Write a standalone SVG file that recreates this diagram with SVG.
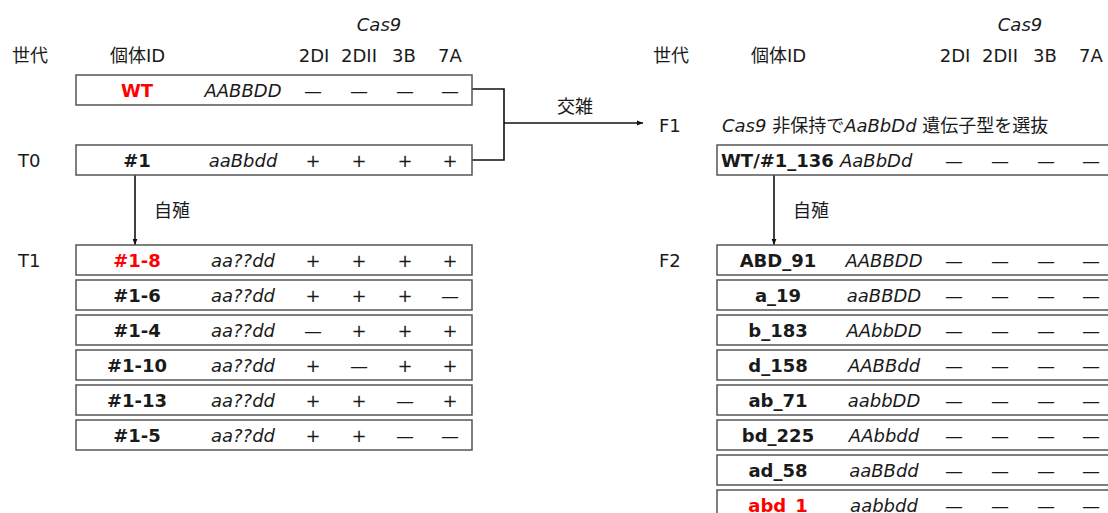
<svg xmlns="http://www.w3.org/2000/svg" width="1108" height="513" viewBox="0 0 1108 513">
<defs>
<marker id="ah" viewBox="0 0 10 10" refX="10" refY="5" markerWidth="6" markerHeight="6" orient="auto" markerUnits="userSpaceOnUse">
<path d="M0,1 L10,5 L0,9 z" fill="#111"/>
</marker>
<style>
text{font-family:"DejaVu Sans","Noto Sans CJK JP",sans-serif;font-size:18px;fill:#1a1a1a}
.box{fill:#fff;stroke:#555;stroke-width:1.5}
.id{font-weight:bold;text-anchor:middle}
.red{fill:#f00}
.gt{font-style:italic;text-anchor:middle}
.c{text-anchor:middle}
.it{font-style:italic}
.ln{fill:none;stroke:#111;stroke-width:1.6}
</style>
</defs>
<rect width="1108" height="513" fill="#fff"/>

<!-- headers left -->
<g id="header-left">
<text x="12" y="62">世代</text>
<text x="110" y="62">個体ID</text>
<text class="c it" x="379" y="31">Cas9</text>
<text class="c" x="314" y="62">2DI</text>
<text class="c" x="359" y="62">2DII</text>
<text class="c" x="404" y="62">3B</text>
<text class="c" x="450" y="62">7A</text>
<text x="18" y="167">T0</text>
<text x="18" y="267">T1</text>
</g>
<!-- headers right -->
<g id="header-right">
<text x="653" y="62">世代</text>
<text x="751" y="62">個体ID</text>
<text class="c it" x="1020" y="31">Cas9</text>
<text class="c" x="955" y="62">2DI</text>
<text class="c" x="1000" y="62">2DII</text>
<text class="c" x="1045" y="62">3B</text>
<text class="c" x="1091" y="62">7A</text>
<text x="659" y="132">F1</text>
<text x="659" y="267">F2</text>
<text x="722" y="132"><tspan class="it">Cas9</tspan> 非保持で<tspan class="it">AaBbDd</tspan> 遺伝子型を選抜</text>
</g>

<!-- connectors -->
<g id="connectors">
<path class="ln" d="M472,89 H504 V160 H472"/>
<path class="ln" d="M504,123 H643" marker-end="url(#ah)"/>
<path class="ln" d="M135,175 V245" marker-end="url(#ah)"/>
<path class="ln" d="M774,175 V245" marker-end="url(#ah)"/>
<text x="557" y="113">交雑</text>
<text x="154" y="217">自殖</text>
<text x="793" y="217">自殖</text>
</g>

<!-- left nodes -->
<g id="WT"><rect class="box" x="76" y="75" width="396" height="30"/>
<text class="id red" x="137" y="96.5">WT</text><text class="gt" x="243" y="96.5">AABBDD</text>
<text class="c" x="313" y="96.5">—</text><text class="c" x="359" y="96.5">—</text><text class="c" x="405" y="96.5">—</text><text class="c" x="450" y="96.5">—</text></g>

<g id="n1"><rect class="box" x="76" y="145" width="396" height="30"/>
<text class="id" x="137" y="166.5">#1</text><text class="gt" x="243" y="166.5">aaBbdd</text>
<text class="c" x="313" y="166.5">+</text><text class="c" x="359" y="166.5">+</text><text class="c" x="405" y="166.5">+</text><text class="c" x="450" y="166.5">+</text></g>

<g id="n1-8"><rect class="box" x="76" y="245" width="396" height="30"/>
<text class="id red" x="137" y="266.5">#1-8</text><text class="gt" x="243" y="266.5">aa??dd</text>
<text class="c" x="313" y="266.5">+</text><text class="c" x="359" y="266.5">+</text><text class="c" x="405" y="266.5">+</text><text class="c" x="450" y="266.5">+</text></g>

<g id="n1-6"><rect class="box" x="76" y="280" width="396" height="30"/>
<text class="id" x="137" y="301.5">#1-6</text><text class="gt" x="243" y="301.5">aa??dd</text>
<text class="c" x="313" y="301.5">+</text><text class="c" x="359" y="301.5">+</text><text class="c" x="405" y="301.5">+</text><text class="c" x="450" y="301.5">—</text></g>

<g id="n1-4"><rect class="box" x="76" y="315" width="396" height="30"/>
<text class="id" x="137" y="336.5">#1-4</text><text class="gt" x="243" y="336.5">aa??dd</text>
<text class="c" x="313" y="336.5">—</text><text class="c" x="359" y="336.5">+</text><text class="c" x="405" y="336.5">+</text><text class="c" x="450" y="336.5">+</text></g>

<g id="n1-10"><rect class="box" x="76" y="350" width="396" height="30"/>
<text class="id" x="137" y="371.5">#1-10</text><text class="gt" x="243" y="371.5">aa??dd</text>
<text class="c" x="313" y="371.5">+</text><text class="c" x="359" y="371.5">—</text><text class="c" x="405" y="371.5">+</text><text class="c" x="450" y="371.5">+</text></g>

<g id="n1-13"><rect class="box" x="76" y="385" width="396" height="30"/>
<text class="id" x="137" y="406.5">#1-13</text><text class="gt" x="243" y="406.5">aa??dd</text>
<text class="c" x="313" y="406.5">+</text><text class="c" x="359" y="406.5">+</text><text class="c" x="405" y="406.5">—</text><text class="c" x="450" y="406.5">+</text></g>

<g id="n1-5"><rect class="box" x="76" y="420" width="396" height="30"/>
<text class="id" x="137" y="441.5">#1-5</text><text class="gt" x="243" y="441.5">aa??dd</text>
<text class="c" x="313" y="441.5">+</text><text class="c" x="359" y="441.5">+</text><text class="c" x="405" y="441.5">—</text><text class="c" x="450" y="441.5">—</text></g>

<!-- right nodes -->
<g id="F1"><rect class="box" x="717" y="145" width="396" height="30"/>
<text x="721" y="166.5" font-weight="bold">WT/#1_136</text><text class="it" x="840" y="166.5">AaBbDd</text>
<text class="c" x="954" y="166.5">—</text><text class="c" x="1000" y="166.5">—</text><text class="c" x="1046" y="166.5">—</text><text class="c" x="1091" y="166.5">—</text></g>

<g id="ABD_91"><rect class="box" x="717" y="245" width="396" height="30"/>
<text class="id" x="778" y="266.5">ABD_91</text><text class="gt" x="884" y="266.5">AABBDD</text>
<text class="c" x="954" y="266.5">—</text><text class="c" x="1000" y="266.5">—</text><text class="c" x="1046" y="266.5">—</text><text class="c" x="1091" y="266.5">—</text></g>

<g id="a_19"><rect class="box" x="717" y="280" width="396" height="30"/>
<text class="id" x="778" y="301.5">a_19</text><text class="gt" x="884" y="301.5">aaBBDD</text>
<text class="c" x="954" y="301.5">—</text><text class="c" x="1000" y="301.5">—</text><text class="c" x="1046" y="301.5">—</text><text class="c" x="1091" y="301.5">—</text></g>

<g id="b_183"><rect class="box" x="717" y="315" width="396" height="30"/>
<text class="id" x="778" y="336.5">b_183</text><text class="gt" x="884" y="336.5">AAbbDD</text>
<text class="c" x="954" y="336.5">—</text><text class="c" x="1000" y="336.5">—</text><text class="c" x="1046" y="336.5">—</text><text class="c" x="1091" y="336.5">—</text></g>

<g id="d_158"><rect class="box" x="717" y="350" width="396" height="30"/>
<text class="id" x="778" y="371.5">d_158</text><text class="gt" x="884" y="371.5">AABBdd</text>
<text class="c" x="954" y="371.5">—</text><text class="c" x="1000" y="371.5">—</text><text class="c" x="1046" y="371.5">—</text><text class="c" x="1091" y="371.5">—</text></g>

<g id="ab_71"><rect class="box" x="717" y="385" width="396" height="30"/>
<text class="id" x="778" y="406.5">ab_71</text><text class="gt" x="884" y="406.5">aabbDD</text>
<text class="c" x="954" y="406.5">—</text><text class="c" x="1000" y="406.5">—</text><text class="c" x="1046" y="406.5">—</text><text class="c" x="1091" y="406.5">—</text></g>

<g id="bd_225"><rect class="box" x="717" y="420" width="396" height="30"/>
<text class="id" x="778" y="441.5">bd_225</text><text class="gt" x="884" y="441.5">AAbbdd</text>
<text class="c" x="954" y="441.5">—</text><text class="c" x="1000" y="441.5">—</text><text class="c" x="1046" y="441.5">—</text><text class="c" x="1091" y="441.5">—</text></g>

<g id="ad_58"><rect class="box" x="717" y="455" width="396" height="30"/>
<text class="id" x="778" y="476.5">ad_58</text><text class="gt" x="884" y="476.5">aaBBdd</text>
<text class="c" x="954" y="476.5">—</text><text class="c" x="1000" y="476.5">—</text><text class="c" x="1046" y="476.5">—</text><text class="c" x="1091" y="476.5">—</text></g>

<g id="abd_1"><rect class="box" x="717" y="490" width="396" height="30"/>
<text class="id red" x="778" y="511.5">abd_1</text><text class="gt" x="884" y="511.5">aabbdd</text>
<text class="c" x="954" y="511.5">—</text><text class="c" x="1000" y="511.5">—</text><text class="c" x="1046" y="511.5">—</text><text class="c" x="1091" y="511.5">—</text></g>
</svg>
